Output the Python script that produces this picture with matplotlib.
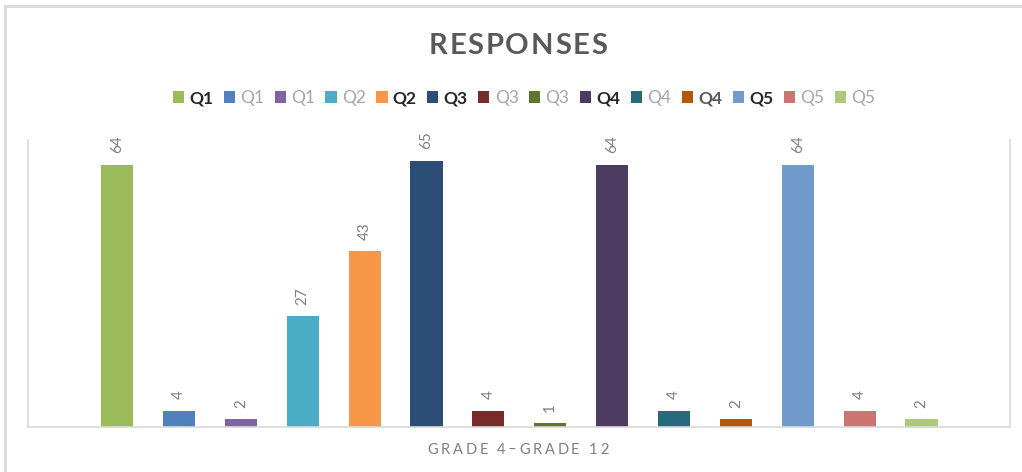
import matplotlib
matplotlib.use("Agg")
import matplotlib.pyplot as plt
from matplotlib.lines import Line2D

labels = ["Q1", "Q1", "Q1", "Q2", "Q2", "Q3", "Q3", "Q3", "Q4", "Q4", "Q4", "Q5", "Q5", "Q5"]
values = [64, 4, 2, 27, 43, 65, 4, 1, 64, 4, 2, 64, 4, 2]
colors = ["#9BBB59", "#4F81BD", "#8064A2", "#4BACC6", "#F79646", "#2C4D75", "#772C2A",
          "#5F7530", "#4D3B62", "#276A7C", "#B65708", "#729ACA", "#CD7371", "#AFC97A"]
bold_idx = [0, 4, 5, 8, 10, 11]
title = "RESPONSES"
xlabel = "GRADE 4\u2013GRADE 12"

FONT = ["Lato", "DejaVu Sans"]
plt.rcParams["font.family"] = FONT

W, H = 1022, 472
fig = plt.figure(figsize=(W / 100, H / 100), dpi=100)
fig.patch.set_facecolor("white")

# outer chart border (screenshot crop)
fig.add_artist(Line2D([5 / W, 5 / W], [0, 1 - 6 / H], transform=fig.transFigure, color="#D9D9D9", lw=2))
fig.add_artist(Line2D([5 / W, 1], [1 - 6 / H, 1 - 6 / H], transform=fig.transFigure, color="#D9D9D9", lw=2))

ax = fig.add_axes([28 / W, (H - 427) / H, 982 / W, 287 / H])
bars = []
for i, (v, c, lab) in enumerate(zip(values, colors, labels)):
    b = ax.bar(i, v, width=0.52, color=c, label=lab, zorder=2)
    bars.append(b[0])
    ax.annotate(str(v), (i, v), xytext=(0, 8), textcoords="offset points",
                rotation=90, ha="center", va="bottom", color="#7F7F7F", fontsize=11)

ax.set_xlim(-1.44, 14.43)
ax.set_ylim(0, 70)
ax.set_xticks([])
ax.set_yticks([])
for s in ["left", "right", "bottom"]:
    ax.spines[s].set_color("#D9D9D9")
    ax.spines[s].set_linewidth(1.2)
ax.spines["top"].set_visible(False)

leg = fig.legend(handles=bars, labels=labels, loc="center", bbox_to_anchor=(524 / W, 1 - 98 / H),
                 ncol=14, frameon=False, handlelength=0.65, handleheight=0.65, handletextpad=0.3,
                 columnspacing=0.6, fontsize=12.5, borderaxespad=0)
for i, t in enumerate(leg.get_texts()):
    if i in bold_idx:
        t.set_fontweight("bold")
        t.set_color("#595959" if i == 10 else "#262626")
    else:
        t.set_color("#A6A6A6")

fig.canvas.draw()
renderer = fig.canvas.get_renderer()


def spaced_text(xc, yc, s, spacing, **kw):
    def width(txt):
        t = fig.text(0, 0, txt + "|", **kw)
        w1 = t.get_window_extent(renderer).width
        t.remove()
        t = fig.text(0, 0, "|", **kw)
        w2 = t.get_window_extent(renderer).width
        t.remove()
        return w1 - w2
    total = width(s) + spacing * (len(s) - 1)
    x0 = xc - total / 2
    for i, ch in enumerate(s):
        if ch == " ":
            continue
        off = width(s[:i]) + spacing * i
        fig.text((x0 + off) / W, 1 - yc / H, ch, ha="left", va="center", **kw)


spaced_text(518, 46, title, 1.8, fontsize=21, fontweight="bold", color="#595959")
spaced_text(518, 450, xlabel, 2.7, fontsize=10.5, color="#7F7F7F")

fig.savefig("out.png", dpi=100, facecolor="white")
